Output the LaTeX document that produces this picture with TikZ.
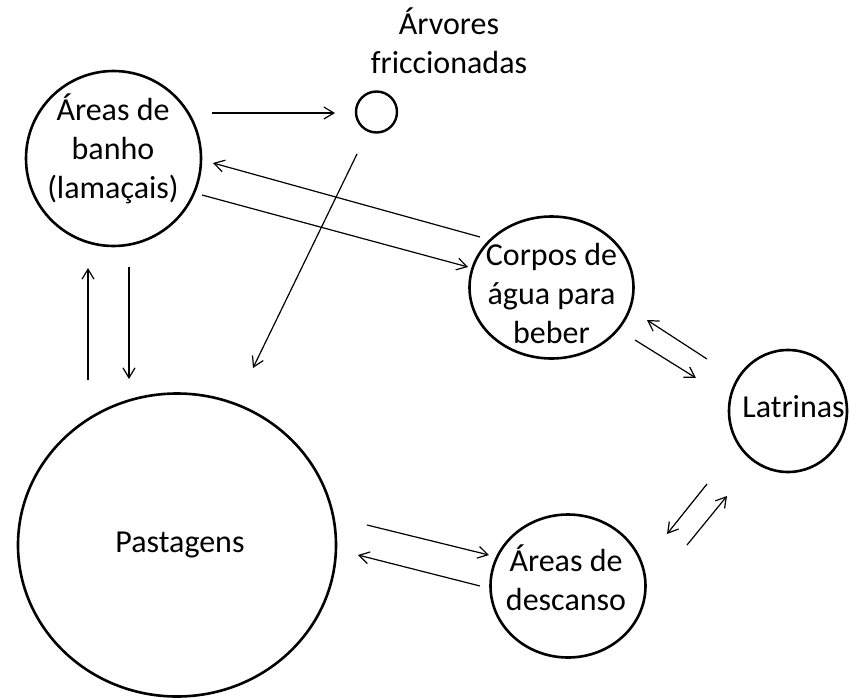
\documentclass[tikz,border=0pt]{standalone}
\usepackage{fontspec}
\setmainfont{Carlito}
\usetikzlibrary{shapes.geometric,arrows.meta}
\begin{document}
\begin{tikzpicture}[x=1pt,y=-1pt,
  area/.style={draw,ellipse,line width=2.6pt,inner sep=0pt},
  lbl/.style={align=center,anchor=base,inner sep=0pt,font=\fontsize{32}{39}\selectfont},
  arr/.style={line width=1.2pt,-{Straight Barb[length=10pt,width=12pt,line width=1.2pt]}}]
\useasboundingbox (0,0) rectangle (849,699);
% areas
\node[area,minimum width=175pt,minimum height=175pt] (banho) at (113.5,158.5) {};
\node[area,line width=2.4pt,minimum width=41pt,minimum height=41pt] (arvore) at (376.5,112) {};
\node[area,minimum width=164pt,minimum height=142pt] (corpos) at (551.5,287.5) {};
\node[area,minimum width=118pt,minimum height=122pt] (latrinas) at (788,411) {};
\node[area,minimum width=155pt,minimum height=143pt] (descanso) at (568,586) {};
\node[area,minimum width=318pt,minimum height=303pt] (pastagens) at (177,545) {};
% labels (base anchor = baseline of the last line)
\node[lbl] (tbanho) at (113,198) {Áreas de\\banho\\(lamaçais)};
\node[lbl] (tarvore) at (449,73) {Árvores\\friccionadas};
\node[lbl] (tcorpos) at (551.5,343) {Corpos de\\água para\\beber};
\node[lbl] (tlatrinas) at (793.5,417) {Latrinas};
\node[lbl] (tdescanso) at (566,610) {Áreas de\\descanso};
\node[lbl] (tpastagens) at (180,552) {Pastagens};
% connector ends
\coordinate (a1) at (212,113); \coordinate (b1) at (335,113);
\coordinate (a2) at (480,237); \coordinate (b2) at (213,163);
\coordinate (a3) at (202,195); \coordinate (b3) at (468,267);
\coordinate (a4) at (357,154); \coordinate (b4) at (253,368);
\coordinate (a5) at (88,380);  \coordinate (b5) at (88,268);
\coordinate (a6) at (129,267); \coordinate (b6) at (129,379);
\coordinate (a7) at (707,359); \coordinate (b7) at (647,320);
\coordinate (a8) at (635,340); \coordinate (b8) at (696,378);
\coordinate (a9) at (707,484); \coordinate (b9) at (667,534);
\coordinate (a10) at (687,545); \coordinate (b10) at (727,496);
\coordinate (a11) at (367,525); \coordinate (b11) at (489,555);
\coordinate (a12) at (480,586); \coordinate (b12) at (358,555);
\foreach \i in {1,...,12} {\draw[arr] (a\i) -- (b\i);}
\end{tikzpicture}
\end{document}
